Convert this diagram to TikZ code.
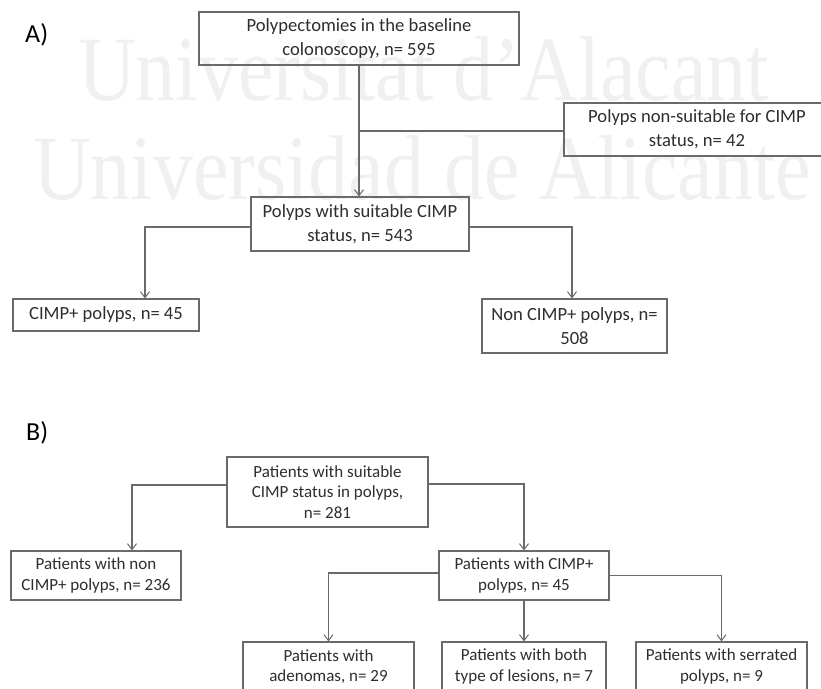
\documentclass[tikz,border=0pt]{standalone}
\usepackage{fontspec}
\setmainfont{Carlito}
\newfontfamily\wmfont{Liberation Serif}
\usetikzlibrary{arrows.meta}
\definecolor{linegray}{HTML}{6A6A6A}
\definecolor{textgray}{HTML}{2E2E2E}
\definecolor{wmgray}{HTML}{F0F0F0}
\tikzset{
  boxA/.style={draw=linegray, line width=1.1pt, align=center, inner sep=0pt,
    text=textgray, font=\fontsize{18.6}{24}\selectfont},
  boxB/.style={draw=linegray, line width=1.1pt, align=center, inner sep=0pt,
    text=textgray, font=\fontsize{17}{20.5}\selectfont},
  conn/.style={draw=linegray, line width=1.1pt},
  arr/.style={conn, -{Straight Barb[length=6pt,width=9pt,line width=1pt]}},
  panel/.style={text=black, font=\fontsize{26}{30}\selectfont, anchor=base west, inner sep=0pt},
  wmark/.style={text=wmgray, font=\wmfont\fontsize{80}{80}\selectfont, anchor=base west, inner sep=0pt, yscale=1.15}
}
\begin{document}
\begin{tikzpicture}[x=1pt,y=-1pt]
\useasboundingbox[fill=white] (0,0) rectangle (821,688);
% watermark
\node[wmark] (wm1) at (78,100) {Universitat d’Alacant};
\node[wmark] (wm2) at (33,199) {Universidad de Alicante};
% panel labels
\node[panel] (labA) at (25,42) {A)};
\node[panel] (labB) at (26,440) {B)};
% ---- A ----
\node[boxA, minimum width=320pt, minimum height=53pt] (b1) at (359,38.5) {Polypectomies in the baseline\\colonoscopy, n= 595};
\node[boxA, minimum width=266pt, minimum height=53pt] (b2) at (697,129.5) {Polyps non-suitable for CIMP\\status, n= 42};
\node[boxA, minimum width=218pt, minimum height=54pt] (b3) at (360,224) {Polyps with suitable CIMP\\status, n= 543};
\node[boxA, minimum width=186pt, minimum height=32pt] (b4) at (106,315) {CIMP+ polyps, n= 45};
\node[boxA, minimum width=185pt, minimum height=54pt] (b5) at (574.5,326) {Non CIMP+ polyps, n=\\508};
\coordinate (j1) at (359,131);
\draw[arr] (b1.south) -- (b1.south |- b3.north);
\draw[conn] (j1) -- (j1 -| b2.west);
\draw[arr] ([yshift=-3pt]b3.west) -| ([xshift=39pt]b4.north);
\draw[arr] ([yshift=-3pt]b3.east) -| ([xshift=-2.5pt]b5.north);
% ---- B ----
\node[boxB, minimum width=201pt, minimum height=70pt] (c1) at (327.5,492) {Patients with suitable\\CIMP status in polyps,\\n= 281};
\node[boxB, minimum width=170pt, minimum height=49pt] (c2) at (96,575.5) {Patients with non\\CIMP+ polyps, n= 236};
\node[boxB, minimum width=170pt, minimum height=49pt] (c3) at (524,575.5) {Patients with CIMP+\\polyps, n= 45};
\node[boxB, minimum width=171pt, minimum height=49pt] (d1) at (328.5,666.5) {Patients with\\adenomas, n= 29};
\node[boxB, minimum width=164pt, minimum height=49pt] (d2) at (524,666.5) {Patients with both\\type of lesions, n= 7};
\node[boxB, minimum width=171pt, minimum height=49pt] (d3) at (721.5,666.5) {Patients with serrated\\polyps, n= 9};
\draw[arr] ([yshift=7pt]c1.west) -| ([xshift=36pt]c2.north);
\draw[arr] ([yshift=8pt]c1.east) -| (c3.north);
\draw[arr] ([yshift=2.5pt]c3.west) -| (d1.north);
\draw[arr] (c3.east) -| (d3.north);
\draw[arr] (c3.south) -- (d2.north);
\end{tikzpicture}
\end{document}
